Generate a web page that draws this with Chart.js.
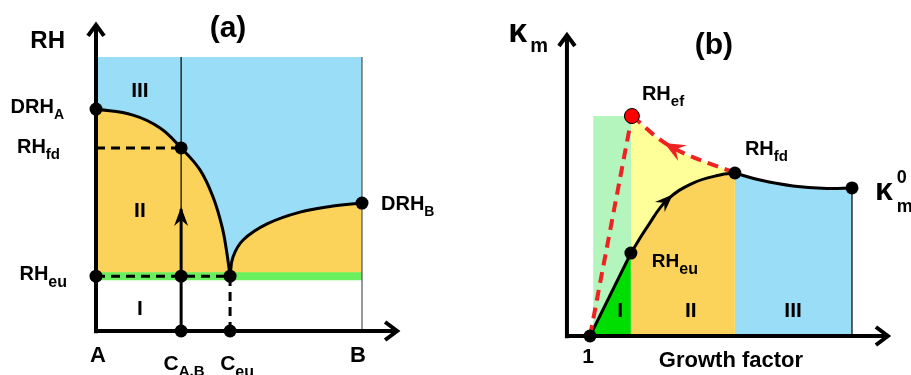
<!DOCTYPE html>
<html>
<head>
<meta charset="utf-8">
<script src="https://cdn.jsdelivr.net/npm/chart.js@4/dist/chart.umd.min.js"></script>
<style>
  body { margin:0; background:#fff; }
  #wrap { position:relative; width:911px; height:375px; }
  #cA { position:absolute; left:0; top:0; }
  #cB { position:absolute; left:460px; top:0; }
</style>
</head>
<body>
<div id="wrap">
  <canvas id="cA" width="460" height="375"></canvas>
  <canvas id="cB" width="451" height="375"></canvas>
</div>
<script>
// ---- (a) RH vs composition A..B ----
const xLiqA = [0, 0.139, 0.241, 0.32, 0.391, 0.44, 0.474, 0.492, 0.504];
const rhLiqA = [0.81, 0.788, 0.741, 0.668, 0.588, 0.489, 0.38, 0.285, 0.2];
const xLiqB = [0.504, 0.515, 0.553, 0.643, 0.767, 0.891, 1.0];
const rhLiqB = [0.2, 0.27, 0.332, 0.391, 0.434, 0.456, 0.467];
const drhA = 0.81, rhFd = 0.668, rhEu = 0.2, drhB = 0.467;
const cAB = 0.32, cEu = 0.504;
const rhPath = 0.445;
const rhTop = 1;

// ---- (b) kappa_m vs growth factor ----
const gfI = [1, 1.156];
const kI = [0, 0.377];
const gfII = [1.156, 1.218, 1.294, 1.393, 1.496, 1.553];
const kII = [0.377, 0.495, 0.618, 0.695, 0.732, 0.741];
const gfIII = [1.553, 1.649, 1.775, 1.905, 2.0];
const kIII = [0.741, 0.709, 0.682, 0.671, 0.673];
const gfEf = [1.16, 1.31, 1.553];
const kEf = [1.0, 0.86, 0.741];
const gfWet = [1.012, 1.158];

const BLUE = '#9ADDF7', ORANGE = '#FCD35A', GREEN = '#6AF05E';
const LGREEN = '#B4F5BE', BGREEN = '#00DD00', YELLOW = '#FFFF99', RED = '#EE2222';
const FAM = '"Liberation Sans", Arial, sans-serif';

function pts(xs, ys) { return xs.map((x, i) => ({x: x, y: ys[i]})); }

function ln(data, o) {
  return Object.assign({
    data: data, showLine: true, pointRadius: 0, borderColor: '#000',
    borderWidth: 3, fill: false, tension: 0
  }, o);
}
function dots(data, color, r) {
  return { data: data, showLine: false, pointRadius: r, pointHoverRadius: r,
    pointBackgroundColor: color, pointBorderColor: '#000', pointBorderWidth: color === '#000' ? 0 : 1 };
}

// arrow heads drawn on datasets that carry an "arrow" field
const arrowPlugin = {
  id: 'arrows',
  afterDatasetsDraw(chart) {
    const ctx = chart.ctx;
    chart.data.datasets.forEach((ds, i) => {
      if (!ds.arrow) return;
      const p = chart.getDatasetMeta(i).data;
      const a = ds.arrow;
      let at, dx, dy;
      if (a.at === undefined) {
        at = p[p.length - 1]; dx = at.x - p[p.length - 2].x; dy = at.y - p[p.length - 2].y;
      } else {
        at = p[a.at]; dx = p[a.at + 1].x - p[a.at - 1].x; dy = p[a.at + 1].y - p[a.at - 1].y;
      }
      const n = Math.hypot(dx, dy); dx /= n; dy /= n;
      const nx = -dy, ny = dx;
      ctx.save();
      ctx.strokeStyle = a.color || '#000';
      ctx.fillStyle = a.color || '#000';
      if (a.kind === 'chevron') {
        const L = a.len || 11, W = a.w || 9;
        ctx.lineWidth = 4;
        ctx.lineJoin = 'miter';
        ctx.beginPath();
        ctx.moveTo(at.x - L * dx + W * nx, at.y - L * dy + W * ny);
        ctx.lineTo(at.x, at.y);
        ctx.lineTo(at.x - L * dx - W * nx, at.y - L * dy - W * ny);
        ctx.stroke();
      } else {
        const f = a.fwd || 0, L = a.len || 16, W = a.w || 6, notch = a.notch || 11;
        const tx = at.x + f * dx, ty = at.y + f * dy;
        ctx.beginPath();
        ctx.moveTo(tx, ty);
        ctx.lineTo(tx - L * dx + W * nx, ty - L * dy + W * ny);
        ctx.lineTo(tx - notch * dx, ty - notch * dy);
        ctx.lineTo(tx - L * dx - W * nx, ty - L * dy - W * ny);
        ctx.closePath();
        ctx.fill();
      }
      ctx.restore();
    });
  }
};

function textPlugin(items) {
  return {
    id: 'texts',
    afterDraw(chart) {
      const ctx = chart.ctx;
      items.forEach(L => {
        const px = chart.scales.x.getPixelForValue(L.x) + (L.dx || 0);
        const py = chart.scales.y.getPixelForValue(L.y) + (L.dy || 0);
        const size = L.size || 20;
        const ss = L.subSize || 14;
        const gap = L.gap || 0;
        ctx.font = 'bold ' + size + 'px ' + FAM;
        const w1 = ctx.measureText(L.text).width + gap;
        ctx.font = 'bold ' + ss + 'px ' + FAM;
        const w2 = Math.max(L.sub ? ctx.measureText(L.sub).width : 0, L.sup ? ctx.measureText(L.sup).width : 0);
        const total = w1 + w2;
        let x0 = px;
        if (L.align === 'right') x0 = px - total;
        else if (L.align === 'center') x0 = px - total / 2;
        ctx.fillStyle = '#000';
        ctx.textAlign = 'left';
        ctx.textBaseline = 'alphabetic';
        ctx.font = 'bold ' + size + 'px ' + FAM;
        ctx.fillText(L.text, x0, py);
        ctx.font = 'bold ' + ss + 'px ' + FAM;
        if (L.sub) ctx.fillText(L.sub, x0 + w1, py + (L.subDy !== undefined ? L.subDy : ss * 0.42));
        if (L.sup) ctx.fillText(L.sup, x0 + w1, py + (L.supDy !== undefined ? L.supDy : -size * 0.55));
      });
    }
  };
}

function withOrder(list) {
  list.forEach((d, i) => { d.order = list.length - i; });
  return list;
}

function makeChart(id, datasets, xr, yr, labels) {
  return new Chart(document.getElementById(id), {
    type: 'scatter',
    data: { datasets: withOrder(datasets) },
    options: {
      responsive: false, animation: false, devicePixelRatio: 1,
      layout: { padding: 0, autoPadding: false },
      events: [],
      scales: {
        x: { type: 'linear', display: false, min: xr[0], max: xr[1] },
        y: { type: 'linear', display: false, min: yr[0], max: yr[1] }
      },
      plugins: { legend: { display: false }, tooltip: { enabled: false } }
    },
    plugins: [arrowPlugin, textPlugin(labels)]
  });
}

// ---------- panel (a) ----------
const dashA = [9, 6];
const dsA = [
  ln(pts([0, 1], [rhTop, rhTop]), { borderWidth: 0, fill: { value: rhEu }, backgroundColor: BLUE }),
  ln(pts(xLiqA, rhLiqA), { fill: { value: rhEu }, backgroundColor: ORANGE, tension: 0.4 }),
  ln(pts(xLiqB, rhLiqB), { fill: { value: rhEu }, backgroundColor: ORANGE, tension: 0.4 }),
  ln(pts([0, 1], [rhEu, rhEu]), { borderColor: GREEN, borderWidth: 8 }),
  ln(pts([cAB, cAB], [0, rhTop]), { borderWidth: 1.2 }),
  ln(pts([1, 1], [0, rhTop]), { borderWidth: 1, borderColor: '#333' }),
  ln(pts([0, cAB], [rhFd, rhFd]), { borderDash: dashA }),
  ln(pts([0, cEu], [rhEu, rhEu]), { borderDash: dashA }),
  ln(pts([cEu, cEu], [0, rhEu]), { borderDash: dashA }),
  ln(pts([cAB, cAB], [0, rhPath]), { arrow: { kind: 'stealth', len: 19, w: 7, notch: 13, fwd: 2 } }),
  ln(pts([0, 0], [-0.008, 1.117]), { borderWidth: 4, arrow: { kind: 'chevron', len: 11, w: 8 } }),
  ln(pts([-0.006, 1.132], [0, 0]), { borderWidth: 4, arrow: { kind: 'chevron', len: 12, w: 9 } }),
  dots(pts([0, 0, cAB, cAB, cEu, 1, cAB, cEu], [drhA, rhEu, rhFd, rhEu, rhEu, drhB, 0, 0]), '#000', 6.5)
];
const labA = [
  { text: 'RH', x: 0, y: 1.117, dx: -31, dy: 23, size: 24, align: 'right' },
  { text: '(a)', x: 0.5, y: 1.117, dx: -1, dy: 12, size: 30, align: 'center' },
  { text: 'DRH', sub: 'A', x: 0, y: drhA, dx: -32, dy: 4, size: 20, subSize: 14, align: 'right' },
  { text: 'RH', sub: 'fd', x: 0, y: rhFd, dx: -36, dy: 5, size: 20, subSize: 15, align: 'right' },
  { text: 'RH', sub: 'eu', x: 0, y: rhEu, dx: -29, dy: 4, size: 20, subSize: 16, align: 'right' },
  { text: 'III', x: 0.165, y: 0.854, size: 21, align: 'center' },
  { text: 'II', x: 0.165, y: 0.416, size: 21, align: 'center' },
  { text: 'I', x: 0.165, y: 0.058, size: 21, align: 'center' },
  { text: 'DRH', sub: 'B', x: 1, y: drhB, dx: 19, dy: 7, size: 20, subSize: 14, align: 'left' },
  { text: 'A', x: 0, y: 0, dx: 2, dy: 31, size: 22, align: 'center' },
  { text: 'B', x: 1, y: 0, dx: -4, dy: 31, size: 22, align: 'center' },
  { text: 'C', sub: 'A,B', x: cAB, y: 0, dx: 3, dy: 39, size: 21, subSize: 15, align: 'center' },
  { text: 'C', sub: 'eu', x: cEu, y: 0, dx: 7, dy: 39, size: 21, subSize: 16, align: 'center' }
];
makeChart('cA', dsA, [-96 / 266, 364 / 266], [-44 / 274, 331 / 274], labA);

// ---------- panel (b) ----------
const dashB = [11, 7];
const dsB = [
  ln(pts(gfWet, [kEf[0], kEf[0]]), { borderWidth: 0, fill: { value: 0 }, backgroundColor: LGREEN }),
  ln(pts(gfEf, kEf), { borderWidth: 0, fill: { value: 0 }, backgroundColor: YELLOW, tension: 0.4 }),
  ln(pts(gfI, kI), { borderWidth: 0, fill: { value: 0 }, backgroundColor: BGREEN }),
  ln(pts(gfII, kII), { fill: { value: 0 }, backgroundColor: ORANGE, tension: 0.4,
    arrow: { kind: 'stealth', at: 2, len: 18, w: 7, notch: 12, fwd: 8 } }),
  ln(pts(gfIII, kIII), { fill: { value: 0 }, backgroundColor: BLUE, tension: 0.4 }),
  ln(pts([2, 2], [0, kIII[kIII.length - 1]]), { borderWidth: 1.2 }),
  ln(pts(gfI, kI), {}),
  ln(pts([1, gfEf[0]], [0, kEf[0]]), { borderColor: RED, borderWidth: 4, borderDash: dashB }),
  ln(pts(gfEf.slice().reverse(), kEf.slice().reverse()), { borderColor: RED, borderWidth: 4, borderDash: dashB, tension: 0.4,
    arrow: { kind: 'stealth', at: 1, color: RED, len: 21, w: 9, notch: 13, fwd: 8 } }),
  ln(pts([0.912, 0.912], [-0.01, 1.368]), { borderWidth: 4, arrow: { kind: 'chevron', len: 11, w: 8 } }),
  ln(pts([0.905, 2.137], [0, 0]), { borderWidth: 4, arrow: { kind: 'chevron', len: 12, w: 9 } }),
  dots(pts([gfI[0], gfII[0], gfIII[0], gfIII[gfIII.length - 1]], [kI[0], kII[0], kIII[0], kIII[kIII.length - 1]]), '#000', 6.5),
  dots(pts([gfEf[0]], [kEf[0]]), '#FF0000', 7.5)
];
const labB = [
  { text: 'κ', sub: 'm', x: 0.912, y: 1.368, dx: -19, dy: 7, size: 34, subSize: 20, subDy: 10, gap: 3, align: 'right' },
  { text: '(b)', x: 1.473, y: 1.282, size: 30, align: 'center' },
  { text: 'RH', sub: 'ef', x: gfEf[0], y: kEf[0], dx: 10, dy: -16, size: 20, subSize: 15, align: 'left' },
  { text: 'RH', sub: 'fd', x: gfIII[0], y: kIII[0], dx: 10, dy: -18, size: 20, subSize: 15, align: 'left' },
  { text: 'RH', sub: 'eu', x: gfII[0], y: kII[0], dx: 21, dy: 14, size: 19, subSize: 16, align: 'left' },
  { text: 'κ', sub: 'm', sup: '0', x: 2, y: kIII[kIII.length - 1], dx: 23, dy: 12, size: 32, subSize: 18, subDy: 12, supDy: -17, gap: 4, align: 'left' },
  { text: 'I', x: 1.115, y: 0.086, size: 21, align: 'center' },
  { text: 'II', x: 1.385, y: 0.086, size: 21, align: 'center' },
  { text: 'III', x: 1.775, y: 0.086, size: 21, align: 'center' },
  { text: '1', x: 1, y: 0, dx: -2, dy: 27, size: 21, align: 'center' },
  { text: 'Growth factor', x: 1.538, y: 0, dy: 31, size: 22, align: 'center' }
];
makeChart('cB', dsB, [1 - 130 / 262, 1 + 321 / 262], [-39 / 220, 336 / 220], labB);
</script>
</body>
</html>
